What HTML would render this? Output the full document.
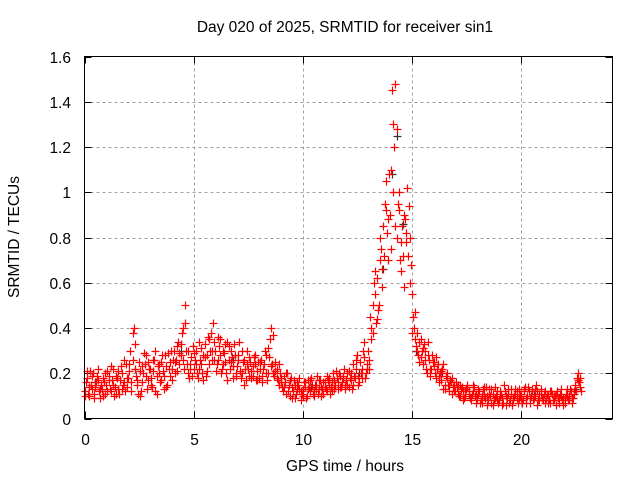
<!DOCTYPE html>
<html><head><meta charset="utf-8"><style>
html,body{margin:0;padding:0;background:#fff}
svg{display:block;font-family:"Liberation Sans",sans-serif}
</style></head><body>
<svg id="chart" width="640" height="480" viewBox="0 0 640 480">
<text x="345" y="32" text-anchor="middle" font-size="15.5">Day 020 of 2025, SRMTID for receiver sin1</text>
<text x="345" y="471" text-anchor="middle" font-size="15.5">GPS time / hours</text>
<text transform="translate(19,237) rotate(-90)" text-anchor="middle" font-size="15.5">SRMTID / TECUs</text>
<g id="grid"></g>
<g id="ticks"></g>
<g id="pts"></g>
<rect x="84.5" y="56.5" width="528" height="362" fill="none" stroke="#000"/>
</svg>
<script>
const xTicks=[0,5,10,15,20];
const yTicks=[0,0.2,0.4,0.6,0.8,1,1.2,1.4,1.6];
const yTickLabels=["0","0.2","0.4","0.6","0.8","1","1.2","1.4","1.6"];
const step=0.1;
const seriesA=[0.12,0.18,0.10,0.15,0.20,0.14,0.17,0.09,0.13,0.16,
0.15,0.19,0.12,0.22,0.14,0.18,0.11,0.20,0.16,0.24,
0.18,0.30,0.38,0.22,0.15,0.25,0.12,0.20,0.28,0.17,
0.22,0.14,0.26,0.19,0.24,0.17,0.21,0.28,0.15,0.25,
0.22,0.30,0.26,0.34,0.28,0.40,0.50,0.24,0.18,0.27,
0.22,0.30,0.18,0.26,0.20,0.33,0.28,0.24,0.38,0.42,
0.30,0.26,0.35,0.22,0.29,0.20,0.32,0.25,0.18,0.28,
0.23,0.34,0.20,0.26,0.17,0.22,0.25,0.19,0.24,0.21,
0.18,0.26,0.22,0.28,0.20,0.35,0.24,0.19,0.22,0.15,
0.18,0.12,0.16,0.20,0.10,0.14,0.17,0.11,0.15,0.08,
0.13,0.16,0.10,0.14,0.18,0.12,0.15,0.11,0.17,0.13,
0.16,0.12,0.18,0.14,0.20,0.15,0.13,0.19,0.16,0.22,
0.17,0.14,0.20,0.24,0.18,0.28,0.16,0.22,0.34,0.20,
0.30,0.45,0.38,0.55,0.62,0.50,0.75,0.85,1.05,0.70,
0.90,1.45,1.20,0.80,1.00,0.65,0.72,0.88,1.02,0.60,
0.55,0.40,0.32,0.28,0.35,0.24,0.30,0.20,0.26,0.22,
0.25,0.18,0.24,0.20,0.22,0.15,0.18,0.12,0.16,0.14,
0.12,0.15,0.10,0.14,0.09,0.13,0.11,0.08,0.12,0.10,
0.09,0.12,0.07,0.11,0.14,0.08,0.10,0.06,0.09,0.12,
0.08,0.11,0.07,0.10,0.13,0.08,0.06,0.10,0.12,0.09,
0.11,0.08,0.14,0.10,0.07,0.12,0.09,0.15,0.08,0.11,
0.09,0.07,0.11,0.08,0.12,0.10,0.06,0.09,0.11,0.08,
0.07,0.10,0.08,0.12,0.09,0.15,0.20,0.14];
const seriesB=[0.16,0.11,0.21,0.13,0.09,0.19,0.12,0.15,0.18,0.11,
0.21,0.13,0.17,0.10,0.19,0.13,0.23,0.15,0.12,0.18,
0.24,0.16,0.40,0.19,0.11,0.21,0.16,0.24,0.13,0.22,
0.18,0.26,0.12,0.23,0.16,0.28,0.19,0.14,0.22,0.30,
0.26,0.20,0.32,0.24,0.38,0.22,0.30,0.20,0.24,0.32,
0.26,0.20,0.34,0.24,0.28,0.19,0.36,0.30,0.26,0.34,
0.24,0.32,0.20,0.30,0.25,0.34,0.22,0.27,0.33,0.20,
0.28,0.18,0.25,0.22,0.30,0.19,0.21,0.27,0.17,0.25,
0.22,0.19,0.30,0.17,0.27,0.40,0.20,0.25,0.17,0.20,
0.14,0.19,0.11,0.15,0.18,0.12,0.09,0.16,0.13,0.11,
0.16,0.09,0.13,0.17,0.11,0.15,0.19,0.13,0.10,0.16,
0.13,0.17,0.11,0.16,0.13,0.18,0.20,0.14,0.19,0.15,
0.20,0.18,0.13,0.19,0.26,0.15,0.20,0.30,0.18,0.24,
0.22,0.35,0.60,0.42,0.48,0.70,0.58,0.95,0.82,1.08,
0.75,1.30,1.48,0.95,0.70,0.85,0.90,0.78,0.94,0.68,
0.45,0.35,0.38,0.25,0.30,0.33,0.22,0.28,0.19,0.25,
0.20,0.22,0.16,0.21,0.13,0.19,0.15,0.17,0.11,0.15,
0.14,0.10,0.13,0.08,0.12,0.15,0.09,0.11,0.14,0.07,
0.11,0.08,0.13,0.09,0.06,0.11,0.13,0.08,0.10,0.07,
0.10,0.06,0.12,0.09,0.07,0.11,0.09,0.13,0.07,0.10,
0.07,0.13,0.09,0.12,0.10,0.08,0.13,0.06,0.11,0.09,
0.11,0.09,0.07,0.12,0.08,0.10,0.12,0.07,0.10,0.09,
0.11,0.08,0.13,0.09,0.12,0.18,0.16,0.12];
const seriesC=[0.10,0.21,0.14,0.19,0.11,0.16,0.22,0.13,0.10,0.20,
0.12,0.17,0.23,0.15,0.11,0.21,0.17,0.13,0.26,0.14,
0.21,0.12,0.26,0.33,0.17,0.10,0.23,0.29,0.19,0.25,
0.15,0.21,0.30,0.11,0.20,0.25,0.13,0.23,0.29,0.19,
0.17,0.25,0.21,0.29,0.33,0.26,0.42,0.30,0.22,0.19,
0.29,0.24,0.22,0.31,0.17,0.27,0.21,0.35,0.30,0.26,
0.21,0.36,0.28,0.24,0.33,0.17,0.26,0.30,0.23,0.19,
0.26,0.21,0.30,0.15,0.24,0.27,0.18,0.23,0.28,0.17,
0.25,0.16,0.24,0.20,0.31,0.23,0.37,0.21,0.18,0.24,
0.16,0.14,0.20,0.12,0.17,0.09,0.15,0.13,0.18,0.12,
0.10,0.14,0.17,0.12,0.15,0.10,0.13,0.17,0.14,0.11,
0.14,0.19,0.15,0.12,0.17,0.21,0.16,0.14,0.18,0.13,
0.15,0.21,0.17,0.15,0.22,0.19,0.25,0.18,0.27,0.22,
0.26,0.40,0.50,0.65,0.44,0.80,0.66,0.72,0.92,0.88,
1.10,1.00,0.85,1.28,0.92,0.78,0.58,0.82,0.72,0.80,
0.38,0.47,0.30,0.34,0.27,0.31,0.26,0.34,0.22,0.28,
0.23,0.27,0.19,0.17,0.24,0.13,0.20,0.15,0.18,0.12,
0.16,0.11,0.15,0.12,0.10,0.14,0.12,0.09,0.15,0.11,
0.13,0.07,0.10,0.14,0.10,0.13,0.07,0.11,0.14,0.08,
0.12,0.09,0.15,0.06,0.11,0.13,0.08,0.11,0.09,0.13,
0.09,0.12,0.07,0.14,0.09,0.13,0.10,0.12,0.08,0.13,
0.08,0.12,0.10,0.07,0.11,0.08,0.11,0.09,0.13,0.06,
0.09,0.13,0.10,0.07,0.11,0.12,0.17,0.18];
const blackTimes=[0.5,2.3,4.4,6.8,8.6,10.4,12.6,13.7,14.1,14.3,14.6,15.2,16.4,18.3,20.6,22.5];
const blackValues=[0.16,0.22,0.30,0.26,0.24,0.14,0.20,0.66,1.08,1.25,0.86,0.30,0.20,0.10,0.11,0.13];
const NS="http://www.w3.org/2000/svg";
const X0=84.5,X1=612.5,Y0=418.5,Y1=56.5,XMAX=24.2,YMAX=1.6;
function sx(v){return X0+v/XMAX*(X1-X0);}
function sy(v){return Y0-v/YMAX*(Y0-Y1);}
function mk(tag,at,parent){const e=document.createElementNS(NS,tag);for(const k in at)e.setAttribute(k,at[k]);parent.appendChild(e);return e;}
const grid=document.getElementById('grid'),ticks=document.getElementById('ticks'),pts=document.getElementById('pts');
xTicks.forEach((t,i)=>{const x=Math.round(sx(t))+0.5;
 if(i>0){const g=mk('line',{x1:x,x2:x,y1:Y1,y2:Y0,stroke:'#a0a0a0','stroke-dasharray':'3,3'},grid);
 
 }
 mk('line',{x1:x,x2:x,y1:Y0,y2:Y0-7,stroke:'#000'},ticks);
 mk('line',{x1:x,x2:x,y1:Y1,y2:Y1+7,stroke:'#000'},ticks);
 const tx=mk('text',{x:x,y:445,'text-anchor':'middle','font-size':15.5},ticks);tx.textContent=String(t);
 
 });
yTicks.forEach((t,i)=>{const y=Math.round(sy(t))+0.5;
 if(i>0&&i<yTicks.length-1){const g=mk('line',{x1:X0,x2:X1,y1:y,y2:y,stroke:'#a0a0a0','stroke-dasharray':'3,3'},grid);
 
 }
 mk('line',{x1:X0,x2:X0+7,y1:y,y2:y,stroke:'#000'},ticks);
 mk('line',{x1:X1,x2:X1-7,y1:y,y2:y,stroke:'#000'},ticks);
 const tx=mk('text',{x:71,y:y+5.5,'text-anchor':'end','font-size':15.5},ticks);tx.textContent=yTickLabels[i];
 
 });
function plus(t,v,c){const x=Math.round(sx(t))+0.5,y=Math.round(sy(v))+0.5;
 const p=mk('path',{d:`M${x-4} ${y}H${x+4}M${x} ${y-4}V${y+4}`,stroke:c,'stroke-width':1.2,fill:'none'},pts);
 
 }
blackTimes.forEach((t,i)=>plus(t,blackValues[i],'#333'));
seriesA.forEach((v,i)=>plus(i*step,v,'#ff0000'));
seriesB.forEach((v,i)=>plus(i*step+step/2,v,'#ff0000'));
seriesC.forEach((v,i)=>plus(i*step+step/4,v,'#ff0000'));
</script>
</body></html>
